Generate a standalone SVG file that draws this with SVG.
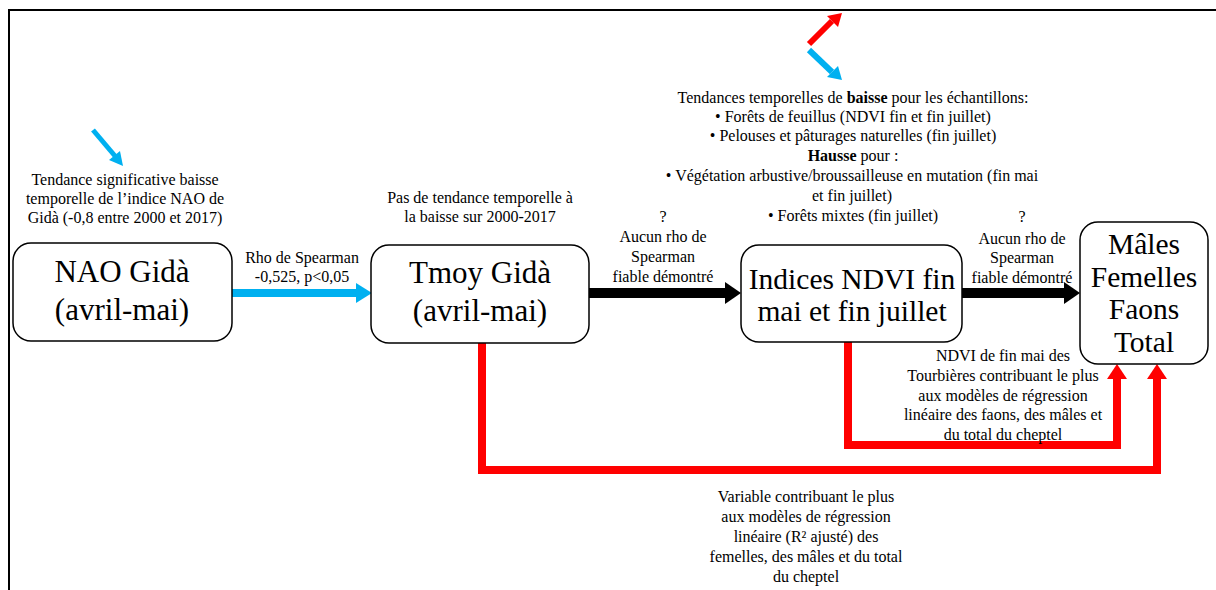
<svg xmlns="http://www.w3.org/2000/svg" width="1216" height="590" viewBox="0 0 1216 590">
<defs>
<style>
.node{fill:#fff;stroke:#000;stroke-width:1.5}
.big{font-size:31px;fill:#000;text-anchor:middle}
.big2{font-size:29.5px;fill:#000;text-anchor:middle}
.lab{font-size:16px;fill:#000;text-anchor:middle}
.red{fill:none;stroke:#ff0000;stroke-width:8}
</style>
</defs>
<rect width="1216" height="590" fill="#fff"/>
<path d="M9,590 V10 H1216" fill="none" stroke="#000" stroke-width="2"/>

<g id="connectors">
<path d="M232,293 H356" stroke="#00b0f0" stroke-width="8" fill="none"/>
<path d="M356,283 L372,293 L356,303 Z" fill="#00b0f0"/>
<path d="M589,293 H726" stroke="#000" stroke-width="10" fill="none"/>
<path d="M725,282 L741,293 L725,304 Z" fill="#000"/>
<path d="M962,293 H1065" stroke="#000" stroke-width="10" fill="none"/>
<path d="M1064,282 L1080,293 L1064,304 Z" fill="#000"/>
<path class="red" d="M482,343 V470 H1157 V378"/>
<path d="M1147,379 L1157,364 L1167,379 Z" fill="#ff0000"/>
<path class="red" d="M848,342 V445 H1117 V378"/>
<path d="M1107,379 L1117,364 L1127,379 Z" fill="#ff0000"/>
<path d="M93,130 L115,156" stroke="#00b0f0" stroke-width="5" fill="none"/>
<path d="M109,160 L123,166 L120,151 Z" fill="#00b0f0"/>
<path d="M809,44 L832,21" stroke="#ff0000" stroke-width="6" fill="none"/>
<path d="M827,16 L842,13 L838,27 Z" fill="#ff0000"/>
<path d="M809,50 L832,72" stroke="#00b0f0" stroke-width="6" fill="none"/>
<path d="M827,77 L842,80 L838,66 Z" fill="#00b0f0"/>
</g>

<g id="node-nao">
<rect class="node" x="13" y="243" width="219" height="98" rx="18"/>
<text class="big" style="font-family:'Liberation Serif',serif" x="122" y="282">NAO Gidà</text>
<text class="big" style="font-family:'Liberation Serif',serif" x="122" y="320">(avril-mai)</text>
</g>
<g id="node-tmoy">
<rect class="node" x="371" y="245" width="218" height="98" rx="18"/>
<text class="big" style="font-family:'Liberation Serif',serif" x="480" y="283">Tmoy Gidà</text>
<text class="big" style="font-family:'Liberation Serif',serif" x="480" y="321">(avril-mai)</text>
</g>
<g id="node-ndvi">
<rect class="node" x="741" y="245" width="221" height="97" rx="18"/>
<text class="big2" style="font-family:'Liberation Serif',serif" x="852" y="289">Indices NDVI fin</text>
<text class="big2" style="font-family:'Liberation Serif',serif" x="852" y="321">mai et fin juillet</text>
</g>
<g id="node-cheptel">
<rect class="node" x="1080" y="222" width="128" height="142" rx="18"/>
<text class="big2" style="font-family:'Liberation Serif',serif" x="1144" y="254">Mâles</text>
<text class="big2" style="font-family:'Liberation Serif',serif" x="1144" y="287">Femelles</text>
<text class="big2" style="font-family:'Liberation Serif',serif" x="1144" y="319">Faons</text>
<text class="big2" style="font-family:'Liberation Serif',serif" x="1144" y="352">Total</text>
</g>

<g id="labels">
<text class="lab" style="font-family:'Liberation Serif',serif" x="125" y="185">Tendance significative baisse</text>
<text class="lab" style="font-family:'Liberation Serif',serif" x="125" y="204">temporelle de l’indice NAO de</text>
<text class="lab" style="font-family:'Liberation Serif',serif" x="125" y="223">Gidà (-0,8 entre 2000 et 2017)</text>

<text class="lab" style="font-family:'Liberation Serif',serif" x="302" y="263">Rho de Spearman</text>
<text class="lab" style="font-family:'Liberation Serif',serif" x="302" y="282">-0,525, p&lt;0,05</text>

<text class="lab" style="font-family:'Liberation Serif',serif" x="480" y="203">Pas de tendance temporelle à</text>
<text class="lab" style="font-family:'Liberation Serif',serif" x="480" y="222">la baisse sur 2000-2017</text>

<text class="lab" style="font-family:'Liberation Serif',serif" x="663" y="222">?</text>
<text class="lab" style="font-family:'Liberation Serif',serif" x="663" y="242">Aucun rho de</text>
<text class="lab" style="font-family:'Liberation Serif',serif" x="663" y="262">Spearman</text>
<text class="lab" style="font-family:'Liberation Serif',serif" x="663" y="282">fiable démontré</text>

<text class="lab" style="font-family:'Liberation Serif',serif" x="1022" y="222">?</text>
<text class="lab" style="font-family:'Liberation Serif',serif" x="1022" y="244">Aucun rho de</text>
<text class="lab" style="font-family:'Liberation Serif',serif" x="1022" y="263">Spearman</text>
<text class="lab" style="font-family:'Liberation Serif',serif" x="1022" y="283">fiable démontré</text>

<text class="lab" style="font-family:'Liberation Serif',serif" x="853" y="103">Tendances temporelles de <tspan font-weight="bold">baisse</tspan> pour les échantillons:</text>
<text class="lab" style="font-family:'Liberation Serif',serif" x="853" y="122">•   Forêts de feuillus (NDVI fin et fin juillet)</text>
<text class="lab" style="font-family:'Liberation Serif',serif" x="853" y="141">•   Pelouses et pâturages naturelles (fin juillet)</text>
<text class="lab" style="font-family:'Liberation Serif',serif" x="853" y="161"><tspan font-weight="bold">Hausse</tspan> pour :</text>
<text class="lab" style="font-family:'Liberation Serif',serif" x="852" y="181">•   Végétation arbustive/broussailleuse en mutation (fin mai</text>
<text class="lab" style="font-family:'Liberation Serif',serif" x="852" y="201">et fin juillet)</text>
<text class="lab" style="font-family:'Liberation Serif',serif" x="853" y="221">•   Forêts mixtes (fin juillet)</text>

<text class="lab" style="font-family:'Liberation Serif',serif" x="1003" y="361">NDVI de fin mai des</text>
<text class="lab" style="font-family:'Liberation Serif',serif" x="1003" y="381">Tourbières contribuant le plus</text>
<text class="lab" style="font-family:'Liberation Serif',serif" x="1003" y="401">aux modèles de régression</text>
<text class="lab" style="font-family:'Liberation Serif',serif" x="1003" y="420">linéaire des faons, des mâles et</text>
<text class="lab" style="font-family:'Liberation Serif',serif" x="1003" y="440">du total du cheptel</text>

<text class="lab" style="font-family:'Liberation Serif',serif" x="806" y="502">Variable contribuant le plus</text>
<text class="lab" style="font-family:'Liberation Serif',serif" x="806" y="522">aux modèles de régression</text>
<text class="lab" style="font-family:'Liberation Serif',serif" x="806" y="542">linéaire (R² ajusté) des</text>
<text class="lab" style="font-family:'Liberation Serif',serif" x="806" y="562">femelles, des mâles et du total</text>
<text class="lab" style="font-family:'Liberation Serif',serif" x="806" y="582">du cheptel</text>
</g>
</svg>
